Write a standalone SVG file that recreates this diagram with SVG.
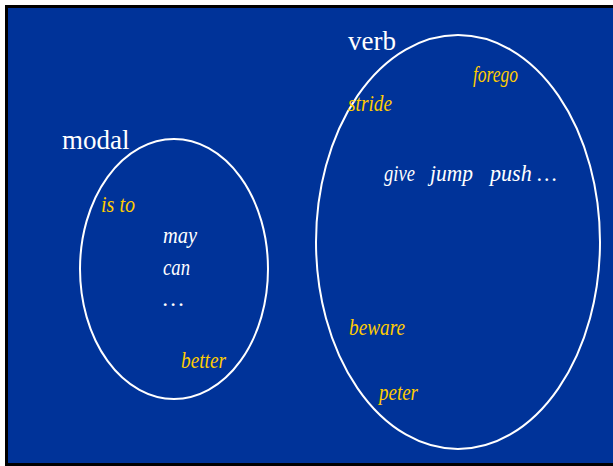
<svg xmlns="http://www.w3.org/2000/svg" width="613" height="466" viewBox="0 0 613 466">
  <style>
    .set { fill: none; stroke: #ffffff; stroke-width: 2; }
    .label { font-family: "Liberation Serif", "DejaVu Serif", serif; font-size: 27px; fill: #ffffff; }
    .word { font-family: "Liberation Serif", "DejaVu Serif", serif; font-size: 24px; font-style: italic; }
    .core { fill: #ffffff; }
    .edge { fill: #ffcc00; }
  </style>
  <!-- frame and background -->
  <rect x="0" y="0" width="613" height="466" fill="#ffffff"/>
  <rect x="5" y="5" width="608" height="461" fill="#000000"/>
  <rect x="8" y="8" width="605" height="455" fill="#003399"/>

  <g id="modal">
    <ellipse class="set" cx="174" cy="269" rx="94" ry="130"/>
    <text class="label" x="62" y="149">modal</text>
    <text class="word edge" x="101" y="212" textLength="34" lengthAdjust="spacingAndGlyphs">is to</text>
    <text class="word core" x="163" y="243" textLength="34" lengthAdjust="spacingAndGlyphs">may</text>
    <text class="word core" x="163" y="275" textLength="27" lengthAdjust="spacingAndGlyphs">can</text>
    <text class="word core" x="163" y="306" textLength="21" lengthAdjust="spacingAndGlyphs">…</text>
    <text class="word edge" x="181" y="368" textLength="45" lengthAdjust="spacingAndGlyphs">better</text>
  </g>

  <g id="verb">
    <ellipse class="set" cx="458" cy="242" rx="142" ry="207"/>
    <text class="label" x="348" y="50">verb</text>
    <text class="word edge" x="473" y="82" textLength="45" lengthAdjust="spacingAndGlyphs">forego</text>
    <text class="word edge" x="348" y="111" textLength="44" lengthAdjust="spacingAndGlyphs">stride</text>
    <text class="word core" x="384" y="181" textLength="31" lengthAdjust="spacingAndGlyphs">give</text>
    <text class="word core" x="430" y="181" textLength="43" lengthAdjust="spacingAndGlyphs">jump</text>
    <text class="word core" x="490" y="181" textLength="67" lengthAdjust="spacingAndGlyphs">push …</text>
    <text class="word edge" x="349" y="335" textLength="56" lengthAdjust="spacingAndGlyphs">beware</text>
    <text class="word edge" x="379" y="400" textLength="39" lengthAdjust="spacingAndGlyphs">peter</text>
  </g>

  <g id="connectors"/>
</svg>
